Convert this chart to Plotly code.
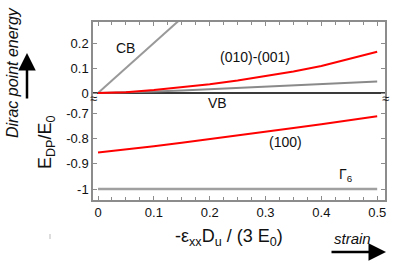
import plotly.graph_objects as go

# ---- data ----
strain = [0, 0.05, 0.1, 0.15, 0.2, 0.25, 0.3, 0.35, 0.4, 0.45, 0.5]
cb = [0, 0.1, 0.2, 0.3, 0.4, 0.5, 0.6, 0.7, 0.8, 0.9, 1.0]
vb_low = [0, 0.002, 0.006, 0.010, 0.015, 0.020, 0.025, 0.030, 0.035, 0.040, 0.046]
red_010_001 = [0, 0.003, 0.012, 0.022, 0.035, 0.050, 0.067, 0.086, 0.108, 0.135, 0.165]
red_100 = [-0.855, -0.843, -0.830, -0.816, -0.802, -0.788, -0.773, -0.758, -0.743, -0.727, -0.711]
gamma6 = [-1, -1, -1, -1, -1, -1, -1, -1, -1, -1, -1]

x_ticks = [0, 0.1, 0.2, 0.3, 0.4, 0.5]
x_ticklabels = ["0", "0.1", "0.2", "0.3", "0.4", "0.5"]
top_ticks = [0, 0.1, 0.2]
top_ticklabels = ["0", "0.1", "0.2"]
bot_ticks = [-0.7, -0.8, -0.9, -1]
bot_ticklabels = ["-0.7", "-0.8", "-0.9", "-1"]

W, H = 394, 264
L, R, T, B = 93, 385, 22, 200
SPLIT = 95


def px(x):
    return (x - L) / (R - L)


def py(y):
    return (B - y) / (B - T)


GRAY = "#999999"
AXC = "#8c8c8c"
FONT = "Liberation Sans, Arial, sans-serif"

fig = go.Figure()
fig.add_trace(go.Scatter(x=strain, y=cb, mode="lines", line=dict(color=GRAY, width=2), xaxis="x2", yaxis="y"))
fig.add_trace(go.Scatter(x=strain, y=vb_low, mode="lines", line=dict(color="#8a8a8a", width=2), xaxis="x2", yaxis="y"))
fig.add_trace(go.Scatter(x=strain, y=red_010_001, mode="lines", line=dict(color="#ff0000", width=2), xaxis="x2", yaxis="y"))
fig.add_trace(go.Scatter(x=strain, y=red_100, mode="lines", line=dict(color="#ff0000", width=2), xaxis="x", yaxis="y2"))
fig.add_trace(go.Scatter(x=strain, y=gamma6, mode="lines", line=dict(color="#a0a0a0", width=2.5), xaxis="x", yaxis="y2"))

xr = [-0.009, 0.514]
split_frac = py(SPLIT)

axis_common = dict(showline=True, linecolor=AXC, linewidth=1.5, ticks="inside",
                   tickcolor=AXC, ticklen=4, showgrid=False, zeroline=False, automargin=False,
                   tickfont=dict(family=FONT, size=13, color="#111"))

fig.update_layout(
    template="none",
    width=W, height=H,
    margin=dict(l=L, r=W - R, t=T, b=H - B, pad=0),
    paper_bgcolor="white", plot_bgcolor="white",
    showlegend=False,
    xaxis=dict(range=xr, anchor="y2", tickvals=x_ticks, ticktext=x_ticklabels,
               minor=dict(dtick=0.025, tick0=0, ticks="inside", ticklen=3, tickcolor=AXC),
               **axis_common),
    xaxis2=dict(range=xr, anchor="y", side="top", matches="x", showticklabels=False,
                tickvals=x_ticks,
                minor=dict(dtick=0.025, tick0=0, ticks="inside", ticklen=3, tickcolor=AXC),
                **axis_common),
    yaxis=dict(domain=[split_frac, 1], range=[-0.008, 0.284], tickvals=top_ticks,
               ticktext=top_ticklabels, mirror="ticks", **axis_common),
    yaxis2=dict(domain=[0, split_frac], range=[-1.0437, -0.6265], tickvals=bot_ticks,
                ticktext=bot_ticklabels, mirror="ticks", **axis_common),
)
fig.update_layout(yaxis=dict(zeroline=True, zerolinecolor="#3a3a3a", zerolinewidth=1.5))

C = dict(xanchor="center", yanchor="middle", showarrow=False)
ann = []
# curve labels
ann.append(dict(x=0.05, y=0.18, xref="x2", yref="y", text="CB",
                font=dict(family=FONT, size=14, color="#111"), **C))
ann.append(dict(x=0.281, y=0.144, xref="x2", yref="y", text="(010)-(001)",
                font=dict(family=FONT, size=14, color="#111"), **C))
ann.append(dict(x=px(217), y=py(103), xref="paper", yref="paper", text="VB",
                font=dict(family=FONT, size=14, color="#111"), **C))
ann.append(dict(x=0.335, y=-0.815, xref="x", yref="y2", text="(100)",
                font=dict(family=FONT, size=14, color="#111"), **C))
ann.append(dict(x=0.445, y=-0.945, xref="x", yref="y2", text="Γ<sub>6</sub>",
                font=dict(family=FONT, size=14, color="#111"), **C))
# axis titles
ann.append(dict(x=px(46), y=py(142), xref="paper", yref="paper", text="E<sub>DP</sub>/E<sub>0</sub>",
                textangle=-90, font=dict(family=FONT, size=18, color="#111"), **C))
ann.append(dict(x=px(229), y=py(237), xref="paper", yref="paper",
                text="-ε<sub>xx</sub>D<sub>u</sub> / (3 E<sub>0</sub>)",
                font=dict(family=FONT, size=18, color="#111"), **C))
ann.append(dict(x=px(12), y=py(73), xref="paper", yref="paper", text="<i>Dirac point energy</i>",
                textangle=-90, font=dict(family=FONT, size=16, color="#111"), **C))
ann.append(dict(x=px(352), y=py(238), xref="paper", yref="paper", text="<i>strain</i>",
                font=dict(family=FONT, size=15, color="#111"), **C))
# arrows
ann.append(dict(x=px(27), y=py(53), xref="paper", yref="paper", ax=0, ay=47,
                axref="pixel", ayref="pixel", text="", showarrow=True, arrowhead=2,
                arrowsize=1.4, arrowwidth=2.5, arrowcolor="black"))
ann.append(dict(x=px(386), y=py(252), xref="paper", yref="paper", ax=-56, ay=0,
                axref="pixel", ayref="pixel", text="", showarrow=True, arrowhead=2,
                arrowsize=1.4, arrowwidth=2.5, arrowcolor="black"))
# axis break marks
for bx in (L, R):
    ann.append(dict(x=px(bx), y=py(99), xref="paper", yref="paper", text="≈",
                    font=dict(family=FONT, size=13, color="#111"), **C))
fig.update_layout(annotations=ann)

fig.add_shape(type="line", xref="paper", yref="paper", x0=px(50), x1=px(50), y0=py(234), y1=py(239),
              line=dict(color="#bbbbbb", width=1))

fig.write_html("out.html", config={"displayModeBar": False},
               post_script="document.body.style.margin='0';document.body.style.overflow='hidden';")
